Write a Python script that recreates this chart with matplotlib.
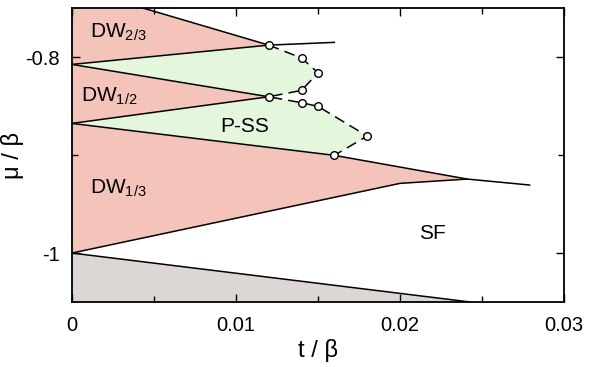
import matplotlib
matplotlib.use("Agg")
import matplotlib.pyplot as plt
from matplotlib.ticker import MultipleLocator

plt.rcParams["font.family"] = ["Liberation Sans", "DejaVu Sans"]
plt.rcParams["mathtext.fontset"] = "custom"
plt.rcParams["mathtext.rm"] = "Liberation Sans"
plt.rcParams["mathtext.it"] = "Liberation Sans"

pink = "#f4c3b9"
green = "#e4f6dc"
gray = "#dcd7d4"

# phase boundaries (t/beta, mu/beta)
dw23_top_t = [0.0, 0.012]
dw23_top_mu = [-0.7286, -0.7878]
dw23_tail_t = [0.012, 0.016]
dw23_tail_mu = [-0.7878, -0.7850]
dw23_bot_t = [0.0, 0.012]
dw23_bot_mu = [-0.8075, -0.7878]

dw12_top_t = [0.0, 0.012]
dw12_top_mu = [-0.8075, -0.8405]
dw12_bot_t = [0.0, 0.012]
dw12_bot_mu = [-0.8677, -0.8405]

dw13_top_t = [0.0, 0.016, 0.0241, 0.0279]
dw13_top_mu = [-0.8677, -0.9003, -0.9245, -0.9306]
dw13_bot_t = [0.0, 0.020, 0.0241]
dw13_bot_mu = [-1.0, -0.9289, -0.9245]

empty_t = [0.0, 0.0243]
empty_mu = [-1.0, -1.05]

# P-SS boundary (dashed, open circles)
pss_t = [0.012, 0.014, 0.015, 0.014, 0.012, 0.014, 0.015, 0.018, 0.016]
pss_mu = [-0.7878, -0.801, -0.816, -0.834, -0.8405, -0.8466, -0.8503, -0.8806, -0.9003]

xticks = [0, 0.01, 0.02, 0.03]
xticklabels = ["0", "0.01", "0.02", "0.03"]
yticks = [-1.0, -0.8]
yticklabels = ["-1", "-0.8"]

fig, ax = plt.subplots(figsize=(5.89, 3.67), dpi=100)
fig.subplots_adjust(left=0.1222, right=0.9576, bottom=0.177, top=0.978)

# fills
ax.fill(dw23_top_t + dw23_bot_t[::-1], dw23_top_mu + dw23_bot_mu[::-1], color=pink, lw=0)
ax.fill(dw12_top_t + dw12_bot_t[::-1], dw12_top_mu + dw12_bot_mu[::-1], color=pink, lw=0)
ax.fill(dw13_top_t[:3] + dw13_bot_t[::-1], dw13_top_mu[:3] + dw13_bot_mu[::-1], color=pink, lw=0)
ax.fill(dw23_bot_t + pss_t[1:5] + [0.0], dw23_bot_mu + pss_mu[1:5] + [dw23_bot_mu[0]], color=green, lw=0)
ax.fill([0.0] + pss_t[4:] + [0.0], [dw12_bot_mu[0]] + pss_mu[4:] + [dw12_bot_mu[0]], color=green, lw=0)
ax.fill(empty_t + [0.0], empty_mu + [-1.05], color=gray, lw=0)

lw = 1.1
for t, mu in [(dw23_top_t, dw23_top_mu), (dw23_tail_t, dw23_tail_mu), (dw23_bot_t, dw23_bot_mu),
              (dw12_top_t, dw12_top_mu), (dw12_bot_t, dw12_bot_mu),
              (dw13_top_t, dw13_top_mu), (dw13_bot_t, dw13_bot_mu), (empty_t, empty_mu)]:
    ax.plot(t, mu, color="black", lw=lw)

ax.plot(pss_t, pss_mu, color="black", lw=lw, linestyle=(0, (7, 4)),
        marker="o", ms=5.5, mfc="white", mec="black", mew=1.0)

fs = 15
ax.text(0.0028, -0.7745, "DW$_{2/3}$", fontsize=fs, ha="center", va="center")
ax.text(0.0023, -0.8405, "DW$_{1/2}$", fontsize=fs, ha="center", va="center")
ax.text(0.0028, -0.9337, "DW$_{1/3}$", fontsize=fs, ha="center", va="center")
ax.text(0.01055, -0.8704, "P-SS", fontsize=fs, ha="center", va="center")
ax.text(0.02195, -0.98, "SF", fontsize=fs, ha="center", va="center")

ax.set_xlim(0, 0.03)
ax.set_ylim(-1.05, -0.75)
ax.set_xticks(xticks)
ax.set_xticklabels(xticklabels)
ax.set_yticks(yticks)
ax.set_yticklabels(yticklabels)
ax.xaxis.set_minor_locator(MultipleLocator(0.005))
ax.yaxis.set_minor_locator(MultipleLocator(0.1))
ax.tick_params(which="both", direction="in", top=True, right=True, width=1.0, labelsize=14.5)
ax.tick_params(axis="x", pad=10)
ax.tick_params(axis="y", pad=9)
ax.tick_params(which="major", length=6)
ax.tick_params(which="minor", length=4)
for s in ax.spines.values():
    s.set_linewidth(1.3)

ax.set_xlabel("t / β", fontsize=17, labelpad=3)
ax.set_ylabel("μ / β", fontsize=17)
ax.yaxis.set_label_coords(-0.098, 0.5)

fig.savefig("out.png", dpi=100)
